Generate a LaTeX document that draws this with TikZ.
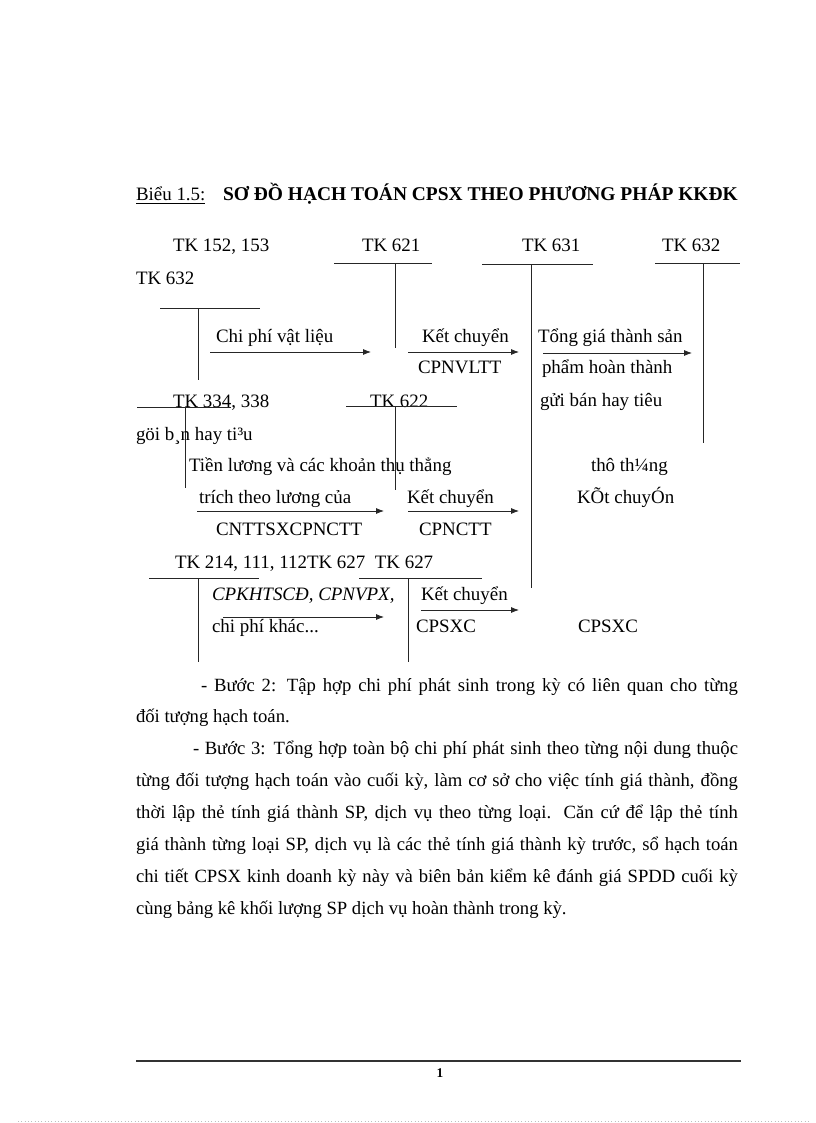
\documentclass[tikz,border=0pt]{standalone}
\usepackage{fontspec}
\setmainfont{Liberation Serif}
\usetikzlibrary{arrows.meta}
\tikzset{
  txt/.style={anchor=base west, inner sep=0pt, outer sep=0pt, font=\fontsize{14.2}{16}\selectfont},
  tline/.style={line width=0.7pt, draw=black!85},
  arr/.style={line width=0.6pt, draw=black!85, -{Latex[length=6pt,width=4.5pt]}}
}
\begin{document}
\begin{tikzpicture}[x=0.75pt,y=-0.75pt]
\useasboundingbox (0,0) rectangle (816,1123);
% title
\node[txt] (ttl1) at (136,201) {\underline{Biểu 1.5:}};
\node[txt, font=\fontsize{14.6}{16}\selectfont\bfseries] (ttl2) at (223,201) {SƠ ĐỒ HẠCH TOÁN CPSX THEO PHƯƠNG PHÁP KKĐK};
% account headings
\node[txt] (h152) at (173,252) {TK 152, 153};
\node[txt] (h621) at (362,252) {TK 621};
\node[txt] (h631) at (522,252) {TK 631};
\node[txt] (h632) at (662,252) {TK 632};
\node[txt] (h632b) at (136,284) {TK 632};
% T-account lines
\coordinate (l621a) at (334,263); \coordinate (l621b) at (432,263);
\coordinate (v621a) at (395,263); \coordinate (v621b) at (395,348);
\draw[tline] (l621a) -- (l621b); \draw[tline] (v621a) -- (v621b);
\coordinate (l631a) at (482,264); \coordinate (l631b) at (593,264);
\coordinate (v631a) at (531,264); \coordinate (v631b) at (531,588);
\draw[tline] (l631a) -- (l631b); \draw[tline] (v631a) -- (v631b);
\coordinate (l632a) at (655,263); \coordinate (l632b) at (740,263);
\coordinate (v632a) at (703,263); \coordinate (v632b) at (703,443);
\draw[tline] (l632a) -- (l632b); \draw[tline] (v632a) -- (v632b);
\coordinate (l152a) at (160,308); \coordinate (l152b) at (260,308);
\coordinate (v152a) at (198,308); \coordinate (v152b) at (198,380);
\draw[tline] (l152a) -- (l152b); \draw[tline] (v152a) -- (v152b);
% row 1
\node[txt] (t1) at (216,342) {Chi phí vật liệu};
\coordinate (a1s) at (210,352); \coordinate (a1e) at (371,352);
\draw[arr] (a1s) -- (a1e);
\node[txt] (t2) at (422,342) {Kết chuyển};
\coordinate (a2s) at (408,352); \coordinate (a2e) at (519,352);
\draw[arr] (a2s) -- (a2e);
\node[txt] (t3) at (418,373) {CPNVLTT};
\node[txt] (t4) at (538,342) {Tổng giá thành sản};
\coordinate (a3s) at (543,353); \coordinate (a3e) at (692,353);
\draw[arr] (a3s) -- (a3e);
\node[txt] (t5) at (542,373) {phẩm hoàn thành};
\node[txt] (t6) at (540,406) {gửi bán hay tiêu};
% row 2
\node[txt] (h334) at (173,407) {TK 334, 338};
\node[txt] (h622) at (370,407) {TK 622};
\coordinate (l334a) at (137,407); \coordinate (l334b) at (231,407);
\coordinate (v334a) at (185,407); \coordinate (v334b) at (185,488);
\draw[tline] (l334a) -- (l334b); \draw[tline] (v334a) -- (v334b);
\coordinate (l622a) at (346,406); \coordinate (l622b) at (457,406);
\coordinate (v622a) at (395,406); \coordinate (v622b) at (395,490);
\draw[tline] (l622a) -- (l622b); \draw[tline] (v622a) -- (v622b);
\node[txt] (g1) at (136,440) {göi b¸n hay ti³u};
\node[txt] (t7) at (189,471) {Tiền lương và các khoản thụ thẳng};
\node[txt] (g2) at (591,471) {thô th¼ng};
\node[txt] (t8) at (199,503) {trích theo lương của};
\coordinate (a4s) at (197,511); \coordinate (a4e) at (384,511);
\draw[arr] (a4s) -- (a4e);
\node[txt] (t9) at (407,503) {Kết chuyển};
\coordinate (a5s) at (408,511); \coordinate (a5e) at (519,511);
\draw[arr] (a5s) -- (a5e);
\node[txt] (g3) at (577,503) {KÕt chuyÓn};
\node[txt] (t10) at (216,535) {CNTTSXCPNCTT};
\node[txt] (t11) at (419,535) {CPNCTT};
% row 3
\node[txt] (h214) at (175,568) {TK 214, 111, 112TK 627\ \ TK 627};
\coordinate (l214a) at (149,578); \coordinate (l214b) at (259,578);
\coordinate (v214a) at (198,578); \coordinate (v214b) at (198,662);
\draw[tline] (l214a) -- (l214b); \draw[tline] (v214a) -- (v214b);
\coordinate (l627a) at (359,578); \coordinate (l627b) at (482,578);
\coordinate (v627a) at (408,578); \coordinate (v627b) at (408,662);
\draw[tline] (l627a) -- (l627b); \draw[tline] (v627a) -- (v627b);
\node[txt, font=\fontsize{14.2}{16}\selectfont\itshape] (t12) at (212,600) {CPKHTSCĐ, CPNVPX,};
\coordinate (a6s) at (223,617); \coordinate (a6e) at (384,617);
\draw[arr] (a6s) -- (a6e);
\node[txt] (t13) at (212,632) {chi phí khác...};
\node[txt] (t14) at (421,600) {Kết chuyển};
\coordinate (a7s) at (421,610); \coordinate (a7e) at (519,610);
\draw[arr] (a7s) -- (a7e);
\node[txt] (t15) at (416,632) {CPSXC};
\node[txt] (t16) at (578,632) {CPSXC};
% paragraph
\node[txt] (para) at (136,691) {\parbox[t]{451.5pt}{\fontsize{14}{23.9}\selectfont
\setlength{\parindent}{0pt}\tolerance=9999\emergencystretch=10pt\hyphenpenalty=10000
\hspace*{48.75pt}- Bước 2: Tập hợp chi phí phát sinh trong kỳ có liên\ quan cho từng\linebreak
đối tượng hạch toán.\par
\hspace*{42.75pt}- Bước 3: Tổng hợp toàn bộ chi phí phát sinh theo từng nội dung thuộc\linebreak
từng đối tượng hạch toán vào cuối kỳ, làm\ cơ sở cho việc tính giá thành, đồng\linebreak
thời lập thẻ tính giá thành SP, dịch vụ theo từng loại. Căn cứ để lập thẻ tính\linebreak
giá thành từng loại SP, dịch vụ là các thẻ tính giá thành kỳ trước, sổ hạch toán\linebreak
chi tiết CPSX kinh\ doanh kỳ này và biên bản kiểm kê đánh giá SPDD cuối kỳ\linebreak
cùng bảng kê khối lượng SP dịch vụ hoàn thành trong kỳ.}};
% footer
\coordinate (f1) at (136,1061); \coordinate (f2) at (741,1061);
\draw[line width=1.1pt, draw=black!80] (f1) -- (f2);
\node[txt, anchor=base, font=\fontsize{10}{12}\selectfont\bfseries] (pg) at (440,1077) {1};
\coordinate (d1) at (18,1121); \coordinate (d2) at (810,1121);
\draw[black!25, line width=0.5pt, dotted] (d1) -- (d2);
\end{tikzpicture}
\end{document}
